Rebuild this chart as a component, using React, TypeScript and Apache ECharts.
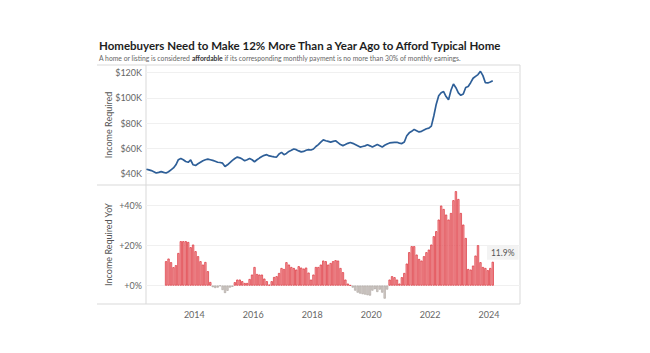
import { useEffect, useRef } from 'react';
import * as echarts from 'echarts';

// Income required (thousands of $), monthly, starting May 2012
const LINE_START_YEAR = 2012;
const LINE_START_MONTH = 5;
const income2012 = [43.5, 43, 42.4, 41.5, 40.5, 41, 41.6, 41];
const income2013 = [40.5, 41.5, 43, 44.5, 47, 51, 52, 51, 49.6, 49, 50.8, 47];
const income2014 = [46.5, 47.8, 49, 50.2, 51, 51.5, 51, 50.5, 49.8, 49, 48.8, 48.3];
const income2015 = [45.6, 47, 48.8, 50.5, 52, 53.1, 52.5, 51.5, 50.2, 51, 52, 51];
const income2016 = [49.4, 51, 52.3, 53.5, 54.5, 55, 54, 53.6, 53.3, 53.1, 55.5, 56.8];
const income2017 = [55, 56, 57.6, 58.5, 59.5, 59, 58, 57.2, 57.6, 58.5, 59, 58.7];
const income2018 = [59.5, 61.5, 63, 65, 66.7, 66, 65.5, 65, 65.5, 66, 64.5, 63];
const income2019 = [62.2, 63, 64, 64.6, 64, 63, 62, 61, 61.5, 62, 62.8, 62];
const income2020 = [61, 62, 63, 62, 61, 62.5, 63.5, 64.3, 64.5, 64.7, 64.8, 64.2];
const income2021 = [63.8, 65, 70, 72.3, 73.5, 75, 74, 73, 73.5, 74.5, 75.5, 76];
const income2022 = [77.6, 85.6, 95, 101.6, 104, 105, 101, 98.4, 106, 111, 108, 104];
const income2023 = [102, 103, 108.2, 109, 112, 115.5, 117, 118.4, 121, 117.6, 112, 111.8];
const income2024 = [112.5, 113.52];

// Income required YoY (%), monthly, starting Jan 2013
const YOY_START_YEAR = 2013;
const YOY_START_MONTH = 1;
const yoy2013 = [12.2, 13.5, 11.7, 9.2, 10.2, 16.3, 22.2, 22.2, 22.2, 21.8, 19.2, 20.5];
const yoy2014 = [17.2, 14.7, 12.2, 10.5, 11.8, 7.2, 1.8, -0.8, -1.2, -1.0, -0.2, -2.2];
const yoy2015 = [-3.7, -2.6, -1.0, -0.6, 1.7, 3.0, 3.0, 2.2, 1.3, 1.3, 3.3, 5.5];
const yoy2016 = [9.3, 5.8, 5.5, 5.5, 3.5, 2.2, 0.5, 2.2, 4.3, 4.7, 6.3, 8.8];
const yoy2017 = [8.3, 11.7, 10.5, 9.3, 8.8, 8.0, 9.7, 9.0, 8.5, 9.0, 6.5, 3.0];
const yoy2018 = [5.5, 9.3, 9.3, 10.5, 12.5, 12.2, 10.5, 11.3, 12.2, 12.7, 12.5, 8.8];
const yoy2019 = [6.7, 3.0, 1.0, 0.2, -1.0, -2.5, -3.5, -4.0, -4.3, -4.5, -4.8, -5.0];
const yoy2020 = [-2.5, -1.8, -3.2, -2.0, -3.5, -6.5, -2.0, 3.0, 4.7, 4.2, 3.0, 1.0];
const yoy2021 = [4.2, 6.3, 11.0, 16.7, 19.7, 19.7, 15.5, 13.3, 12.5, 14.7, 16.7, 18.0];
const yoy2022 = [20.5, 24.7, 27.2, 33.0, 40.0, 38.3, 35.5, 33.0, 36.3, 42.7, 47.2, 43.3];
const yoy2023 = [36.3, 30.5, 23.8, 8.3, 8.0, 10.0, 15.0, 20.2, 11.7, 9.3, 8.8, 7.7];
const yoy2024 = [8.8, 11.9];

const yearTicks = [2014, 2016, 2018, 2020, 2022, 2024];
const incomeTicks = [40, 60, 80, 100, 120];
const yoyTicks = [0, 20, 40];
const lastIncomeLabel = '$113,520';
const lastYoyLabel = '11.9%';

const TITLE = 'Homebuyers Need to Make 12% More Than a Year Ago to Afford Typical Home';
const SUBTITLE =
  'A home or listing is considered {b|affordable} if its corresponding monthly payment is no more than 30% of monthly earnings.';

const FONT = 'Lato';

function monthPos(startYear: number, startMonth: number, i: number) {
  const m = startMonth - 1 + i;
  return startYear + (m + 0.5) / 12;
}

export default function App() {
  const ref = useRef<HTMLDivElement>(null);

  useEffect(() => {
    if (!ref.current) return;
    const chart = echarts.init(ref.current, undefined, { renderer: 'svg' });

    const incomeValues = [
      income2012, income2013, income2014, income2015, income2016, income2017, income2018,
      income2019, income2020, income2021, income2022, income2023, income2024,
    ].flat();
    const yoyValues = [
      yoy2013, yoy2014, yoy2015, yoy2016, yoy2017, yoy2018, yoy2019, yoy2020, yoy2021,
      yoy2022, yoy2023, yoy2024,
    ].flat();

    const lineData: any[] = incomeValues.map((v, i) => [monthPos(LINE_START_YEAR, LINE_START_MONTH, i), v]);
    const lastL = lineData.length - 1;
    lineData[lastL] = {
      value: lineData[lastL],
      label: {
        show: true,
        position: 'bottom',
        distance: 6,
        formatter: lastIncomeLabel,
        backgroundColor: '#f3f3f3',
        padding: [3, 8, 2, 8],
        color: '#555',
        fontSize: 8.5,
        fontFamily: FONT,
      },
    };

    const barData: any[] = yoyValues.map((v, i) => {
      const neg = v < 0;
      return {
        value: [monthPos(YOY_START_YEAR, YOY_START_MONTH, i), v],
        itemStyle: neg
          ? { color: '#d2ccc8', borderColor: '#a9a19c', borderWidth: 0.6 }
          : { color: '#f2a5a8', borderColor: '#dc2f38', borderWidth: 0.7 },
      };
    });
    const lastB = barData.length - 1;
    barData[lastB].label = {
      show: true,
      position: 'top',
      distance: 0,
      offset: [10, -2],
      formatter: lastYoyLabel,
      backgroundColor: '#f3f3f3',
      padding: [3, 4, 2, 4],
      color: '#555',
      fontSize: 8.5,
      fontFamily: FONT,
    };

    const xMin = 2012.36;
    const xMax = 2025.05;
    const axisTextColor = '#666';
    const frameColor = '#d9d9d9';

    const xAxisBase = {
      type: 'value',
      min: xMin,
      max: xMax,
      axisLine: { show: false },
      axisTick: { show: false, customValues: yearTicks },
      splitLine: { show: false },
    };

    const option: any = {
      animation: false,
      backgroundColor: '#ffffff',
      title: {
        text: TITLE,
        subtext: SUBTITLE,
        left: 99,
        top: 39,
        padding: 0,
        itemGap: 3,
        textStyle: { fontFamily: FONT, fontSize: 11.5, fontWeight: 'bold', color: '#1e1e1e' },
        subtextStyle: {
          fontFamily: FONT,
          fontSize: 6.8,
          color: '#666',
          rich: { b: { fontFamily: FONT, fontSize: 6.8, fontWeight: 'bold', color: '#333' } },
        },
      },
      grid: [
        { left: 146, top: 65, width: 374, height: 120 },
        { left: 146, top: 185, width: 374, height: 119 },
      ],
      xAxis: [
        { ...xAxisBase, gridIndex: 0, axisLabel: { show: false } },
        {
          ...xAxisBase,
          gridIndex: 1,
          axisLabel: {
            show: true,
            customValues: yearTicks,
            formatter: (v: number) => String(Math.round(v)),
            color: axisTextColor,
            fontFamily: FONT,
            fontSize: 9,
            margin: 6,
          },
        },
      ],
      yAxis: [
        {
          type: 'value',
          gridIndex: 0,
          min: 31,
          max: 126,
          name: 'Income Required',
          nameLocation: 'middle',
          nameGap: 33,
          nameMoveOverlap: false,
          nameTextStyle: { color: '#555', fontFamily: FONT, fontSize: 9 },
          axisLine: { show: false },
          axisTick: { show: false, customValues: incomeTicks },
          axisLabel: {
            customValues: incomeTicks,
            formatter: (v: number) => '$' + v + 'K',
            color: axisTextColor,
            fontFamily: FONT,
            fontSize: 9,
            margin: 4,
          },
          splitLine: { show: true, lineStyle: { color: '#f0f0f0', width: 1 } },
        },
        {
          type: 'value',
          gridIndex: 1,
          min: -9.2,
          max: 50.3,
          name: 'Income Required YoY',
          nameLocation: 'middle',
          nameGap: 33,
          nameMoveOverlap: false,
          nameTextStyle: { color: '#555', fontFamily: FONT, fontSize: 9 },
          axisLine: { show: false },
          axisTick: { show: false, customValues: yoyTicks },
          axisLabel: {
            customValues: yoyTicks,
            formatter: (v: number) => '+' + v + '%',
            color: axisTextColor,
            fontFamily: FONT,
            fontSize: 9,
            margin: 4,
          },
          splitLine: { show: true, lineStyle: { color: '#f0f0f0', width: 1 } },
        },
      ],
      graphic: [
        { type: 'line', shape: { x1: 97, y1: 65, x2: 520, y2: 65 }, style: { stroke: frameColor, lineWidth: 1 } },
        { type: 'line', shape: { x1: 97, y1: 185, x2: 520, y2: 185 }, style: { stroke: frameColor, lineWidth: 1 } },
        { type: 'line', shape: { x1: 97, y1: 304, x2: 520, y2: 304 }, style: { stroke: frameColor, lineWidth: 1 } },
        { type: 'line', shape: { x1: 146, y1: 65, x2: 146, y2: 304 }, style: { stroke: frameColor, lineWidth: 1 } },
        { type: 'line', shape: { x1: 520, y1: 65, x2: 520, y2: 304 }, style: { stroke: frameColor, lineWidth: 1 } },
      ],
      series: [
        {
          type: 'line',
          xAxisIndex: 0,
          yAxisIndex: 0,
          data: lineData,
          showSymbol: false,
          symbol: 'none',
          lineStyle: { color: '#2e5f98', width: 1.7 },
          itemStyle: { color: '#2e5f98' },
          z: 3,
        },
        {
          type: 'bar',
          xAxisIndex: 1,
          yAxisIndex: 1,
          data: barData,
          barWidth: 2.2,
          z: 3,
        },
      ],
    };

    chart.setOption(option);
    return () => chart.dispose();
  }, []);

  return (
    <div
      ref={ref}
      style={{ position: 'fixed', left: 0, top: 0, width: 650, height: 353, background: '#fff' }}
    />
  );
}
